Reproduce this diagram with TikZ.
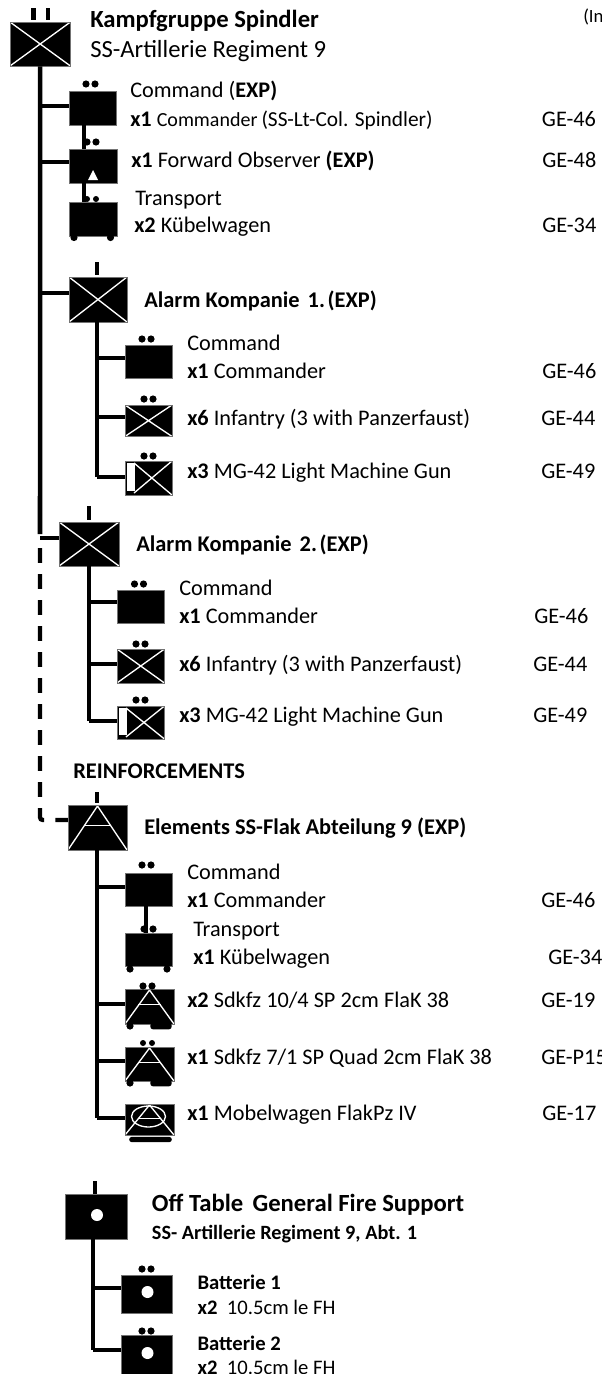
\documentclass[tikz,border=0pt]{standalone}
\usepackage{fontspec}
\setmainfont{Carlito}
\usetikzlibrary{calc}
\def\pb{path picture bounding box}
\tikzset{
  x=0.75pt, y=-0.75pt,
  sz/.style 2 args={minimum width=#1*0.75pt, minimum height=#2*0.75pt},
  unit/.style={rectangle, fill=black, draw=black!55, line width=0.5pt, inner sep=0pt},
  hqsym/.style={unit},
  xsym/.style={unit, path picture={
    \draw[white, line width=1pt] (\pb.north west) -- (\pb.south east)
      (\pb.south west) -- (\pb.north east);}},
  mgsym/.style={unit, path picture={
    \draw[white, line width=1pt] ($(\pb.north west)+(9,2)$) -- (\pb.south east)
      ($(\pb.south west)+(9,-2)$) -- (\pb.north east);
    \fill[white] ($(\pb.north west)+(2,2)$) rectangle ($(\pb.south west)+(10,-4)$);}},
  aasym/.style={unit, path picture={
    \draw[white, line width=1pt] (\pb.south west) -- ($(\pb.north)+(0,1)$) -- (\pb.south east);
    \draw[white, line width=1pt] ($(\pb.north)!0.45!(\pb.south west)$) -- ($(\pb.north)!0.45!(\pb.south east)$);}},
  mobsym/.style={unit, path picture={
    \draw[white, line width=1pt] (\pb.south west) -- ($(\pb.north)+(0,1)$) -- (\pb.south east);
    \draw[white, line width=1pt] ($(\pb.north)!0.47!(\pb.south west)$) -- ($(\pb.north)!0.47!(\pb.south east)$);
    \draw[white, line width=1pt] ($(\pb.center)+(-1,-3)$) ellipse (17 and 10.5);}},
  dot/.style={circle, fill=black, inner sep=0pt, minimum size=5.4pt},
  dotsm/.style={dot, minimum size=4.5pt},
  wheel/.style={dot},
  track/.style={rectangle, rounded corners=2pt, fill=black, inner sep=0pt},
  link/.style={line width=3.4pt, black},
  stub/.style={line width=3.2pt, black},
  reinf/.style={line width=3.2pt, black, dash pattern=on 11.2pt off 8.3pt},
  tx/.style={anchor=base west, inner sep=0pt, font=\fontsize{16.7pt}{18pt}\selectfont},
  txb/.style={tx, font=\fontsize{16.8pt}{18pt}\selectfont\bfseries},
  head/.style={tx, font=\fontsize{18.5pt}{20pt}\selectfont\bfseries},
  head2/.style={tx, font=\fontsize{18.5pt}{20pt}\selectfont},
  sub/.style={tx, font=\fontsize{15.2pt}{17pt}\selectfont\bfseries},
  btx/.style={tx, font=\fontsize{15.5pt}{17pt}\selectfont},
  btxb/.style={tx, font=\fontsize{15.5pt}{17pt}\selectfont\bfseries},
}
\newcommand{\dotpair}[3]{\node[dot] (#1a) at (#2,#3) {}; \node[dot] (#1b) at (#2+9,#3) {};}
\newcommand{\dotpairsm}[3]{\node[dotsm] (#1a) at (#2,#3) {}; \node[dotsm] (#1b) at (#2+9,#3) {};}
\begin{document}
\begin{tikzpicture}
\useasboundingbox (0,0) rectangle (601,1374);
\clip (0,0) rectangle (601,1374);
% ---- trunk coordinates
\coordinate (tA) at (40,106);
\coordinate (tB) at (40,162);
\coordinate (tC) at (40,293);
\coordinate (tD) at (40,538);
\coordinate (tF) at (40,534);
\coordinate (tG) at (40,548);
\coordinate (tE) at (40,820);
\coordinate (tH) at (68,820);
% ---- root
\node[xsym, sz={60.5}{44}] (root) at (40.2,44) {};
\coordinate (rt1a) at (33.5,8); \coordinate (rt1b) at (33.5,20);
\coordinate (rt2a) at (48,8); \coordinate (rt2b) at (48,20);
\draw[stub] (rt1a) -- (rt1b); \draw[stub] (rt2a) -- (rt2b);
% HQ group
\node[hqsym, sz={47}{34}] (cmd) at (92.5,108) {};
\node[hqsym, sz={48}{34}] (fo) at (93,166) {};
\node[hqsym, sz={48}{34}] (tr) at (93,219) {};
\coordinate (cmdS) at (84,125); \coordinate (foN) at (84,149); \coordinate (foS) at (84,183); \coordinate (trN) at (84,202);
\draw[link] (root.south) -- (tF);
\draw[link] (tA) -- (tA -| cmd.west);
\draw[link] (tB) -- (tB -| fo.west);
\draw[link] (cmdS) -- (foN); \draw[link] (foS) -- (trN);
\dotpair{p1}{86}{84}
\dotpair{p2}{87}{142}
\dotpairsm{p3}{87}{199}
\fill[white] (88,180) -- (93,170) -- (98,180) -- cycle;
\node[wheel] (w1) at (74,237.5) {}; \node[wheel] (w2) at (110.5,237.5) {};
% ---- Alarm 1
\node[xsym, sz={58}{45}] (a1) at (98,299.5) {};
\coordinate (a1ta) at (97,262); \coordinate (a1tb) at (97,275);
\draw[stub] (a1ta) -- (a1tb);
\draw[link] (tC) -- (tC -| a1.west);
\node[hqsym, sz={47}{33}] (a1c) at (148.5,361.5) {};
\node[xsym, sz={47}{31.5}] (a1i) at (148.5,420.7) {};
\node[mgsym, sz={47}{34}] (a1m) at (148.5,478) {};
\coordinate (a1e) at (97,477); \coordinate (a1f) at (97,358); \coordinate (a1g) at (97,417);
\draw[link] (a1e |- a1.south) -- (a1e);
\draw[link] (a1f) -- (a1f -| a1c.west);
\draw[link] (a1g) -- (a1g -| a1i.west);
\draw[link] (a1e) -- (a1e -| a1m.west);
\dotpair{p4}{142}{339}
\dotpair{p5}{144}{399}
\dotpair{p6}{144}{456}
% ---- Alarm 2
\node[xsym, sz={60}{44}] (a2) at (89,544) {};
\coordinate (a2ta) at (89,506); \coordinate (a2tb) at (89,520);
\draw[stub] (a2ta) -- (a2tb);
\draw[link] (tD) -- (tD -| a2.west);
\node[hqsym, sz={47.5}{33}] (a2c) at (140.7,606.5) {};
\node[xsym, sz={47.5}{34}] (a2i) at (140.7,666) {};
\node[mgsym, sz={47.5}{33}] (a2m) at (140.7,722.5) {};
\coordinate (a2e) at (89,721); \coordinate (a2f) at (89,602); \coordinate (a2g) at (89,664);
\draw[link] (a2e |- a2.south) -- (a2e);
\draw[link] (a2f) -- (a2f -| a2c.west);
\draw[link] (a2g) -- (a2g -| a2i.west);
\draw[link] (a2e) -- (a2e -| a2m.west);
\dotpair{p7}{134.5}{584}
\dotpair{p8}{136}{644}
\dotpair{p9}{136}{700}
% ---- Reinforcement link
\draw[reinf, rounded corners=2pt] (tG) -- (tE) -- (tH);
% ---- Flak
\node[aasym, sz={59}{45}] (fl) at (97.5,827.5) {};
\coordinate (flta) at (97,792); \coordinate (fltb) at (97,803);
\draw[stub] (flta) -- (fltb);
\node[hqsym, sz={47}{33}] (fc) at (148.5,889.5) {};
\node[hqsym, sz={47}{33}] (ft) at (148.5,949.5) {};
\node[aasym, sz={49}{35}] (f1) at (149.5,1006.5) {};
\node[aasym, sz={49}{34}] (f2) at (149.5,1064) {};
\node[mobsym, sz={49}{31}] (f3) at (149.5,1119.5) {};
\coordinate (fle) at (97,1118); \coordinate (flf) at (97,887); \coordinate (flg) at (97,1004); \coordinate (flh) at (97,1061);
\coordinate (fcS) at (146,906); \coordinate (ftN) at (146,933);
\draw[link] (fle |- fl.south) -- (fle);
\draw[link] (flf) -- (flf -| fc.west);
\draw[link] (flg) -- (flg -| f1.west);
\draw[link] (flh) -- (flh -| f2.west);
\draw[link] (fle) -- (fle -| f3.west);
\draw[link] (fcS) -- (ftN);
\dotpair{p10}{142}{865}
\dotpair{p11}{144}{929}
\node[wheel] (w3) at (130,969) {}; \node[wheel] (w4) at (167,969) {};
\dotpair{p12}{143}{986}
\node[wheel] (w5) at (130,1026) {};
\node[track, minimum width=16pt, minimum height=5pt] (k1) at (161,1026) {};
\dotpairsm{p13}{143}{1043}
\node[wheel] (w6) at (130,1083) {};
\node[track, minimum width=16pt, minimum height=5pt] (k2) at (161,1083) {};
\node[track, minimum width=32pt, minimum height=4pt] (k3) at (150.5,1139.5) {};
% ---- Off table
\node[hqsym, sz={62}{45}] (ot) at (96,1216.5) {};
\coordinate (otta) at (95,1181); \coordinate (ottb) at (95,1194);
\draw[stub] (otta) -- (ottb);
\fill[white] (97,1215) circle[radius=6];
\node[hqsym, sz={51}{38}] (b1) at (146.5,1294) {};
\node[hqsym, sz={51}{39}] (b2) at (146.5,1354.5) {};
\coordinate (ote) at (93,1350); \coordinate (otf) at (93,1288);
\draw[link] (ote |- ot.south) -- (ote);
\draw[link] (otf) -- (otf -| b1.west);
\draw[link] (ote) -- (ote -| b2.west);
\fill[white] (147.5,1292) circle[radius=6];
\fill[white] (147.5,1353) circle[radius=6];
\dotpair{p14}{142}{1269}
\dotpair{p15}{142}{1331}
% ---- Text
\node[tx, font=\fontsize{14pt}{16pt}\selectfont] (n0) at (583,22.7) {(In};
\node[head] (n1) at (90,27.7) {Kampfgruppe Spindler};
\node[head2] (n2) at (90,57) {SS-Artillerie Regiment 9};
\node[tx] (n3) at (130,97) {Command (\textbf{EXP)}};
\node[tx] (n4) at (130,126) {\textbf{x1} {\fontsize{15pt}{16pt}\selectfont Commander\hspace{3pt}\fontsize{16pt}{16pt}\selectfont(SS-Lt-Col. Spindler)}};
\node[tx] (n5) at (131,167.7) {\textbf{x1} Forward Observer \textbf{(EXP)}};
\node[tx] (n6) at (135,205) {Transport};
\node[tx] (n7) at (134,232.7) {\textbf{x2} Kübelwagen};
\node[tx] (c1) at (541.7,126) {GE-46};
\node[tx] (c2) at (542,167.7) {GE-48};
\node[tx] (c3) at (542,232.7) {GE-34};
\node[txb] (n8) at (144,307.3) {Alarm Kompanie\hspace{6pt}1.\hspace{2pt}(EXP)};
\node[tx] (n9) at (187,350) {Command};
\node[tx] (n10) at (187,378) {\textbf{x1} Commander};
\node[tx] (c4) at (542,378) {GE-46};
\node[tx] (n11) at (187,425.7) {\textbf{x6} Infantry (3 with Panzerfaust)};
\node[tx] (c5) at (541,425.7) {GE-44};
\node[tx] (n12) at (187,478.3) {\textbf{x3} MG-42 Light Machine Gun};
\node[tx] (c6) at (541,478.3) {GE-49};
\node[txb] (n13) at (136,551) {Alarm Kompanie\hspace{6pt}2.\hspace{2pt}(EXP)};
\node[tx] (n14) at (179,595) {Command};
\node[tx] (n15) at (179,623.3) {\textbf{x1} Commander};
\node[tx] (c7) at (534,623.3) {GE-46};
\node[tx] (n16) at (179,671.7) {\textbf{x6} Infantry (3 with Panzerfaust)};
\node[tx] (c8) at (533,671.7) {GE-44};
\node[tx] (n17) at (179,722.7) {\textbf{x3} MG-42 Light Machine Gun};
\node[tx] (c9) at (533,722.7) {GE-49};
\node[txb] (n18) at (73,778.3) {REINFORCEMENTS};
\node[txb] (n19) at (144,834) {Elements SS-Flak Abteilung 9 (EXP)};
\node[tx] (n20) at (187,879) {Command};
\node[tx] (n21) at (187,907.3) {\textbf{x1} Commander};
\node[tx] (c10) at (541,907.3) {GE-46};
\node[tx] (n22) at (193,936) {Transport};
\node[tx] (n23) at (193,964.3) {\textbf{x1} Kübelwagen};
\node[tx] (c11) at (548,964.3) {GE-34};
\node[tx] (n24) at (187,1007.3) {\textbf{x2} Sdkfz 10/4 SP 2cm FlaK 38};
\node[tx] (c12) at (541,1007.3) {GE-19};
\node[tx] (n25) at (187,1064) {\textbf{x1} Sdkfz 7/1 SP Quad 2cm FlaK 38};
\node[tx] (c13) at (541,1064) {GE-P15};
\node[tx] (n26) at (187,1120.7) {\textbf{x1} Mobelwagen FlakPz IV};
\node[tx] (c14) at (542,1120.7) {GE-17};
\node[head] (n27) at (151.7,1211.7) {Off Table\hspace{7pt}General Fire Support};
\node[sub] (n28) at (151.7,1239) {SS- Artillerie Regiment 9, Abt. 1};
\node[btxb] (n29) at (197.3,1289) {Batterie 1};
\node[btx] (n30) at (197.3,1314) {\textbf{x2}\ \ 10.5cm le FH};
\node[btxb] (n31) at (197.3,1350) {Batterie 2};
\node[btx] (n32) at (197.3,1374) {\textbf{x2}\ \ 10.5cm le FH};
\end{tikzpicture}
\end{document}
